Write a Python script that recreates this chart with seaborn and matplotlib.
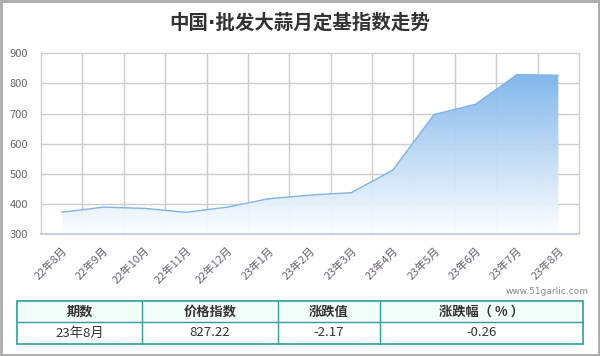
import numpy as np
import pandas as pd
import matplotlib
matplotlib.use("Agg")
import matplotlib.pyplot as plt
import seaborn as sns
from matplotlib.patches import Rectangle
from matplotlib.colors import LinearSegmentedColormap

months = ["22年8月", "22年9月", "22年10月", "22年11月", "22年12月", "23年1月", "23年2月",
          "23年3月", "23年4月", "23年5月", "23年6月", "23年7月", "23年8月"]
values = [373, 390, 386, 373, 390, 418, 430, 438, 513, 697, 731, 829.39, 827.22]
yticks = [300, 400, 500, 600, 700, 800, 900]
table_header = ["期数", "价格指数", "涨跌值", "涨跌幅（ % ）"]
table_row = ["23年8月", "827.22", "-2.17", "-0.26"]

sns.set_theme(style="white")
plt.rcParams['font.family'] = ['Noto Sans CJK SC', 'DejaVu Sans']

df = pd.DataFrame({"x": np.arange(len(months)), "v": values})

fig = plt.figure(figsize=(6.0, 3.56), dpi=100)
ax = fig.add_axes([41/600, 1-234.3/356, (579-41)/600, (234.3-53.3)/356])

line_c = "#7DB4EA"
sns.lineplot(data=df, x="x", y="v", ax=ax, color=line_c, linewidth=1.0)

# gradient fill
x = df["x"].values
poly = ax.fill_between(x, values, 300, color="none", lw=0)
cmap = LinearSegmentedColormap.from_list("g", ["#FFFFFF", "#7AB3EA"])
grad = np.linspace(0, 1, 256).reshape(-1, 1)
im = ax.imshow(grad, cmap=cmap, aspect="auto", origin="lower",
               extent=[x.min(), x.max(), 300, 835], zorder=1, alpha=0.95)
path = poly.get_paths()[0]
im.set_clip_path(path, transform=ax.transData)

ax.set_xlim(-0.5, len(months) - 0.5)
ax.set_ylim(300, 900)
ax.set_yticks(yticks)
ax.set_yticklabels([str(t) for t in yticks], fontsize=8, color="#666666")
ax.set_xticks(np.arange(len(months)))
ax.set_xticklabels(months, rotation=45, ha="right", rotation_mode="anchor",
                   fontsize=8, color="#6b6470")
ax.set_xticks(np.arange(-0.5, len(months)), minor=True)
ax.tick_params(axis="x", which="major", length=0, pad=8)
ax.tick_params(axis="x", which="minor", length=5, color="#B8C8DA", width=1)
ax.tick_params(axis="y", length=0, pad=22.5)
for lbl in ax.get_yticklabels():
    lbl.set_horizontalalignment("left")
ax.grid(False)
for t in yticks[1:]:
    ax.axhline(t, color="#CCCCCC", lw=1, zorder=0, clip_on=False)
for b in np.arange(-0.5, len(months)):
    ax.axvline(b, color="#CCCCCC", lw=1, zorder=0, clip_on=False)
ax.set_xlabel("")
ax.set_ylabel("")
for s in ["top", "right", "left"]:
    ax.spines[s].set_visible(False)
ax.spines["bottom"].set_color("#B8C8DA")
ax.spines["bottom"].set_linewidth(1.2)

fig.text(300/600, 1-23/356, "中国·批发大蒜月定基指数走势", ha="center", va="center",
         fontsize=14, fontweight="bold", color="#333333",
         family=["DejaVu Sans", "Noto Sans CJK SC"])
fig.text(589/600, 1-292/356, "www.51garlic.com", ha="right", va="center",
         fontsize=6.5, color="#888888", family="DejaVu Sans")

# table
cols = [17, 142, 278, 380, 583]
teal = "#2E9E97"
fig.patches.append(Rectangle((17/600, 1-322/356), (583-17)/600, 21/356,
                             transform=fig.transFigure, facecolor="#F0FDF8", edgecolor="none"))
fig.patches.append(Rectangle((17/600, 1-344/356), (583-17)/600, 43/356,
                             transform=fig.transFigure, facecolor="none", edgecolor=teal, lw=1.2))
fig.add_artist(plt.Line2D([17/600, 583/600], [1-322/356]*2, color=teal, lw=1, transform=fig.transFigure))
for c in cols[1:-1]:
    fig.add_artist(plt.Line2D([c/600]*2, [1-301/356, 1-344/356], color=teal, lw=1, transform=fig.transFigure))
for i in range(4):
    cx = (cols[i] + cols[i+1]) / 2 / 600
    fig.text(cx, 1-311.5/356, table_header[i], ha="center", va="center", fontsize=9.5,
             fontweight="bold", color="#333333")
    fig.text(cx, 1-333/356, table_row[i], ha="center", va="center", fontsize=9.5,
             color="#333333")

# outer border
fig.patches.append(Rectangle((0.001, 0.002), 0.997, 0.996, transform=fig.transFigure,
                             facecolor="none", edgecolor="#AAAAAA", lw=2))

fig.savefig("out.png", dpi=100)
